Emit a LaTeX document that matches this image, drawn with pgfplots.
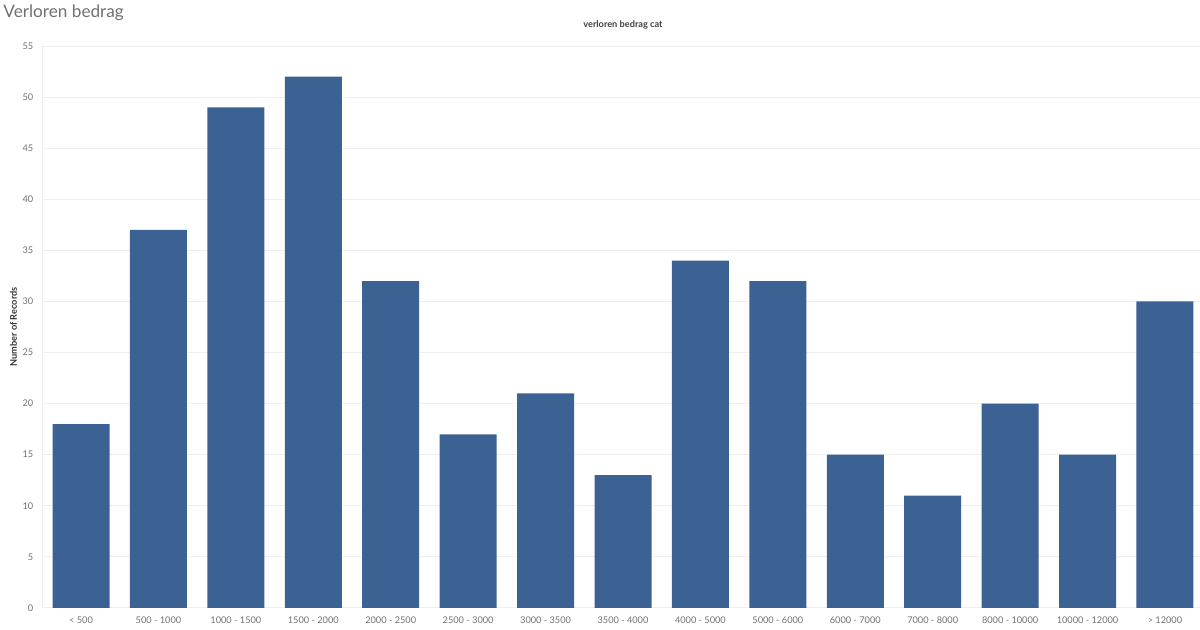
\documentclass[border=0pt]{standalone}
\usepackage{pgfplots}
\pgfplotsset{compat=1.18}
\usepackage{fontspec}
\setmainfont{Lato}
\definecolor{barblue}{HTML}{3C6193}
\definecolor{gridc}{HTML}{EFEFEF}
\definecolor{tickc}{HTML}{707070}
\begin{document}
\begin{tikzpicture}
\useasboundingbox (0,0) rectangle (600pt,315pt);
\node[anchor=west, inner sep=0pt, text=tickc, font=\fontsize{8.6}{10}\selectfont] at (1.5pt,308.5pt) {Verloren bedrag};
\begin{axis}[
  at={(21.15pt,11pt)}, anchor=south west,
  scale only axis, width=580.7pt, height=281pt,
  ymin=0, ymax=55, xmin=-0.5, xmax=14.5,
  ytick={0,5,...,55},
  xtick=data,
  xticklabels={< 500,500 - 1000,1000 - 1500,1500 - 2000,2000 - 2500,2500 - 3000,3000 - 3500,3500 - 4000,4000 - 5000,5000 - 6000,6000 - 7000,7000 - 8000,8000 - 10000,10000 - 12000,> 12000},
  ybar, bar width=28.5pt,
  ymajorgrids, grid style={gridc, line width=0.5pt},
  axis line style={gridc, line width=0.5pt},
  major tick length=0pt,
  tick label style={text=tickc, font=\fontsize{4.6}{5}\selectfont},
  /pgf/number format/assume math mode=true,
  yticklabel style={xshift=-1pt},
  xticklabel style={yshift=-1pt},
  ylabel={Number of Records},
  ylabel style={font=\bfseries\fontsize{4.6}{5}\selectfont, text=black!80, yshift=-4pt},
  title={verloren bedrag cat},
  title style={font=\bfseries\fontsize{4.6}{5}\selectfont, text=black!75, yshift=-1pt},
]
\addplot[fill=barblue, draw=none] coordinates {
(0,18) (1,37) (2,49) (3,52) (4,32) (5,17) (6,21) (7,13) (8,34) (9,32) (10,15) (11,11) (12,20) (13,15) (14,30)
};
\end{axis}
\end{tikzpicture}
\end{document}
